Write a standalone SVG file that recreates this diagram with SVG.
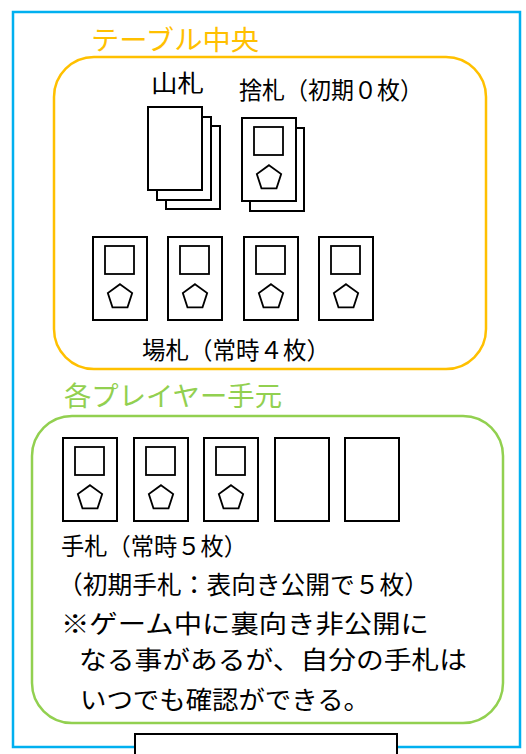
<svg xmlns="http://www.w3.org/2000/svg" xmlns:xlink="http://www.w3.org/1999/xlink" width="526" height="754" viewBox="0 0 526 754">
<style>
.card{fill:#fff;stroke:#000;stroke-width:2}
.mark{fill:#fff;stroke:#000;stroke-width:1.8}
.t{font-family:"Noto Sans CJK JP","Noto Sans CJK SC",sans-serif;fill:#000}
.orange{fill:#FFC000}
.green{fill:#92D050}
</style>
<defs>
<g id="face">
<rect class="card" x="0" y="0" width="54" height="83"/>
<rect class="mark" x="12" y="9" width="29" height="28"/>
<polygon class="mark" transform="translate(27,60)" points="0,-12.8 12.17,-3.96 7.52,10.36 -7.52,10.36 -12.17,-3.96"/>
</g>
<rect id="blank" class="card" x="0" y="0" width="54" height="83"/>
</defs>
<rect id="frame" x="13" y="12" width="507" height="735" fill="#fff" stroke="#00B0F0" stroke-width="2.5"/>

<g id="table-center">
<rect x="54" y="57" width="432" height="312" rx="40" ry="40" fill="none" stroke="#FFC000" stroke-width="2.5"/>
<text class="t orange" x="91" y="50" font-size="27" textLength="168" lengthAdjust="spacingAndGlyphs">テーブル中央</text>
</g>

<g id="deck">
<use xlink:href="#blank" x="166" y="126"/>
<use xlink:href="#blank" x="157" y="117"/>
<use xlink:href="#blank" x="148" y="107"/>
<text class="t" x="151" y="92" font-size="24" textLength="53" lengthAdjust="spacingAndGlyphs">山札</text>
</g>

<g id="discard">
<use xlink:href="#blank" x="250" y="128"/>
<use xlink:href="#face" x="242" y="118"/>
<text class="t" x="239" y="99" font-size="24" textLength="184" lengthAdjust="spacingAndGlyphs">捨札（初期０枚）</text>
</g>

<g id="field">
<use xlink:href="#face" x="93" y="237"/>
<use xlink:href="#face" x="168" y="237"/>
<use xlink:href="#face" x="244" y="237"/>
<use xlink:href="#face" x="319" y="237"/>
<text class="t" x="142" y="359" font-size="24" textLength="188" lengthAdjust="spacingAndGlyphs">場札（常時４枚）</text>
</g>

<g id="player-hand">
<rect x="32" y="416" width="471" height="307" rx="40" ry="40" fill="none" stroke="#92D050" stroke-width="2.5"/>
<text class="t green" x="64" y="406" font-size="27" textLength="218" lengthAdjust="spacingAndGlyphs">各プレイヤー手元</text>
<use xlink:href="#face" x="63" y="438"/>
<use xlink:href="#face" x="134" y="438"/>
<use xlink:href="#face" x="204" y="438"/>
<use xlink:href="#blank" x="275" y="438"/>
<use xlink:href="#blank" x="345" y="438"/>
<text class="t" x="61" y="555" font-size="24" textLength="186" lengthAdjust="spacingAndGlyphs">手札（常時５枚）</text>
<text class="t" x="58" y="594" font-size="25" textLength="371" lengthAdjust="spacingAndGlyphs">（初期手札：表向き公開で５枚）</text>
<text class="t" x="61" y="633" font-size="25" textLength="368" lengthAdjust="spacingAndGlyphs">※ゲーム中に裏向き非公開に</text>
<text class="t" x="79" y="669" font-size="25" textLength="388" lengthAdjust="spacingAndGlyphs">なる事があるが、自分の手札は</text>
<text class="t" x="80" y="709" font-size="25" textLength="290" lengthAdjust="spacingAndGlyphs">いつでも確認ができる。</text>
</g>

<g id="caption">
<rect x="135" y="734" width="262" height="30" fill="#fff" stroke="#000" stroke-width="2"/>
</g>
</svg>
